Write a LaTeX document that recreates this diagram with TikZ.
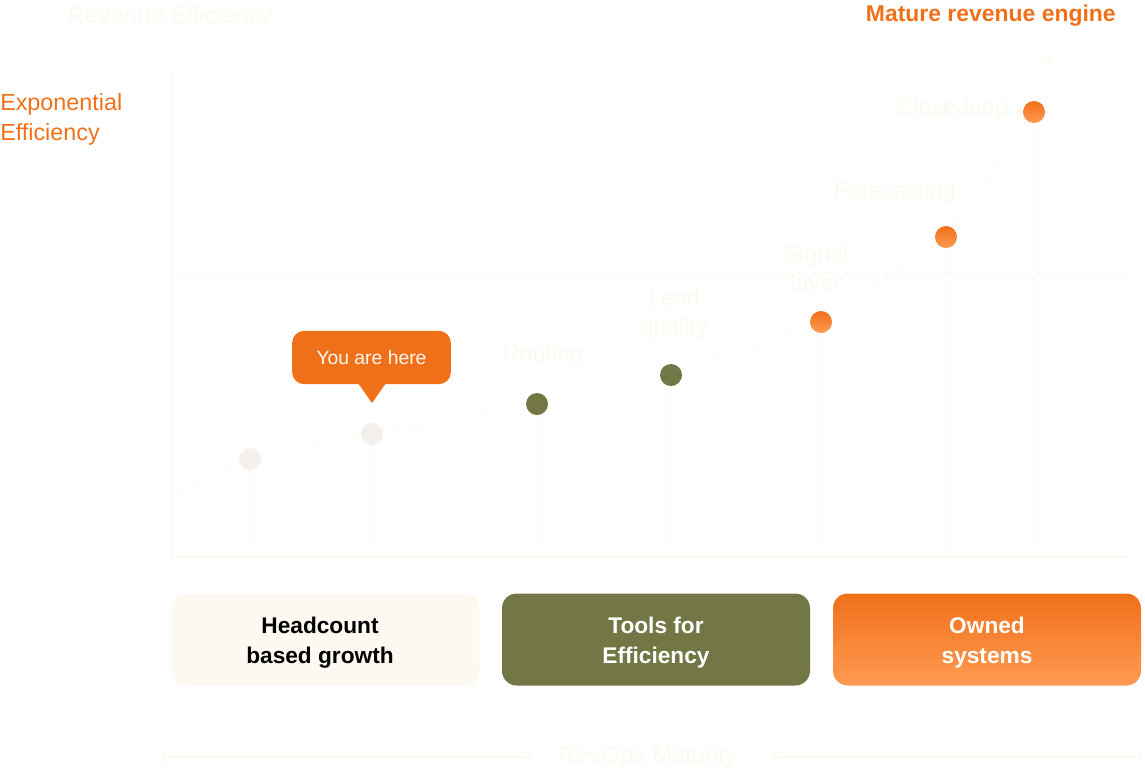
\documentclass[tikz,border=0pt]{standalone}
\usepackage{fontspec}
\setmainfont{Liberation Sans}
\usetikzlibrary{arrows.meta,shapes.callouts}
\definecolor{faint}{HTML}{FCF9F0}
\definecolor{fgrid}{HTML}{FCFAF2}
\definecolor{orng}{HTML}{F0701A}
\definecolor{orng2}{HTML}{FF9A52}
\definecolor{olive}{HTML}{737746}
\definecolor{cream}{HTML}{FDF8F0}
\definecolor{pale}{HTML}{F5F0EB}
\begin{document}
\begin{tikzpicture}[x=0.75pt,y=-0.75pt,
  lbl/.style={text=faint,font=\fontsize{17.5}{22}\selectfont,align=center},
  dotp/.style={circle,minimum size=16.5pt,inner sep=0pt},
  grid/.style={draw=fgrid,dashed,line width=0.8pt},
  stage/.style={rounded corners=11pt,minimum width=231pt,minimum height=69pt,align=center,font=\fontsize{17}{22.5}\selectfont\bfseries}]
\useasboundingbox (0,0) rectangle (1145,772);
% axes
\draw[draw=faint,line width=1pt,-{Straight Barb[length=4pt]}] (172,557) -- (172,72);
\draw[draw=faint,line width=1pt] (172,557) -- (1130,557);
\draw[grid] (172,112) -- (1034,112);
\draw[grid] (172,273) -- (1130,273);
% points
\node[dotp,fill=pale] (p1) at (250,459) {};
\node[dotp,fill=pale] (p2) at (372,434) {};
\node[dotp,fill=olive] (p3) at (537,404) {};
\node[dotp,fill=olive] (p4) at (671,375) {};
\node[dotp,top color=orng,bottom color=orng2] (p5) at (821,322) {};
\node[dotp,top color=orng,bottom color=orng2] (p6) at (946,237) {};
\node[dotp,top color=orng,bottom color=orng2] (p7) at (1034,112) {};
\coordinate (s) at (172,500);
\coordinate (tip) at (1049,56);
\foreach \p in {p1,p2,p3,p4,p5,p6,p7}{\draw[grid] (\p.south) -- (\p.south |- 0,548);}
\draw[draw=faint,line width=1.2pt,dash pattern=on 2pt off 5pt]
  (s) .. controls (200,478) .. (p1) -- (p2) -- (p3) -- (p4) -- (p5) -- (p6) -- (p7);
\draw[draw=faint,line width=1.2pt,dash pattern=on 2pt off 5pt,-{Straight Barb[length=5pt]}] (p7) -- (tip);
% labels
\node[lbl] (l3) at (543,355) {Routing};
\node[lbl] (l4) at (674,314) {Lead\\quality};
\node[lbl] (l5) at (816,270) {Signal\\layer};
\node[lbl] (l6) at (895,192) {Forecasting};
\node[lbl] (l7) at (952,109) {Close-loop};
% bubble
\node[fill=orng,rounded corners=9pt,minimum width=119pt,minimum height=40pt,text=cream,font=\fontsize{14.5}{16}\selectfont] (yh) at (371.5,357.5) {You are here};
\fill[orng] (358,383) -- (372,403) -- (386,383) -- cycle;
% titles
\node[text=faint,anchor=west,font=\fontsize{18}{20}\selectfont] (rt) at (63,17) {Revenue Efficiency};
\node[text=orng,anchor=north west,align=left,font=\fontsize{17.5}{22.5}\selectfont,inner sep=0pt] (ee) at (0,93) {Exponential\\Efficiency};
\node[text=orng,anchor=east,font=\fontsize{17.2}{20}\selectfont\bfseries,inner sep=0pt] (mr) at (1116,16) {Mature revenue engine};
% stages
\node[stage,fill=cream] (b1) at (325.5,639.5) {};
\node[stage,fill=olive] (b2) at (656,639.5) {};
\node[stage,top color=orng,bottom color=orng2] (b3) at (987,639.5) {};
\node[stage,text=black] (t1) at (320,642.5) {Headcount\\based growth};
\node[stage,text=white] (t2) at (656,642.5) {Tools for\\Efficiency};
\node[stage,text=white] (t3) at (987,642.5) {Owned\\systems};
% bottom axis
\node[text=faint,font=\fontsize{18}{20}\selectfont] (rm) at (648,757) {RevOps Maturity};
\coordinate (a1) at (160,757); \coordinate (a2) at (533,757);
\coordinate (a3) at (772,757); \coordinate (a4) at (1143,757);
\draw[draw=faint,line width=1pt,{Straight Barb[length=4pt]}-{Straight Barb[length=4pt]}] (a1) -- (a2);
\draw[draw=faint,line width=1pt,{Straight Barb[length=4pt]}-{Straight Barb[length=4pt]}] (a3) -- (a4);
\end{tikzpicture}
\end{document}
